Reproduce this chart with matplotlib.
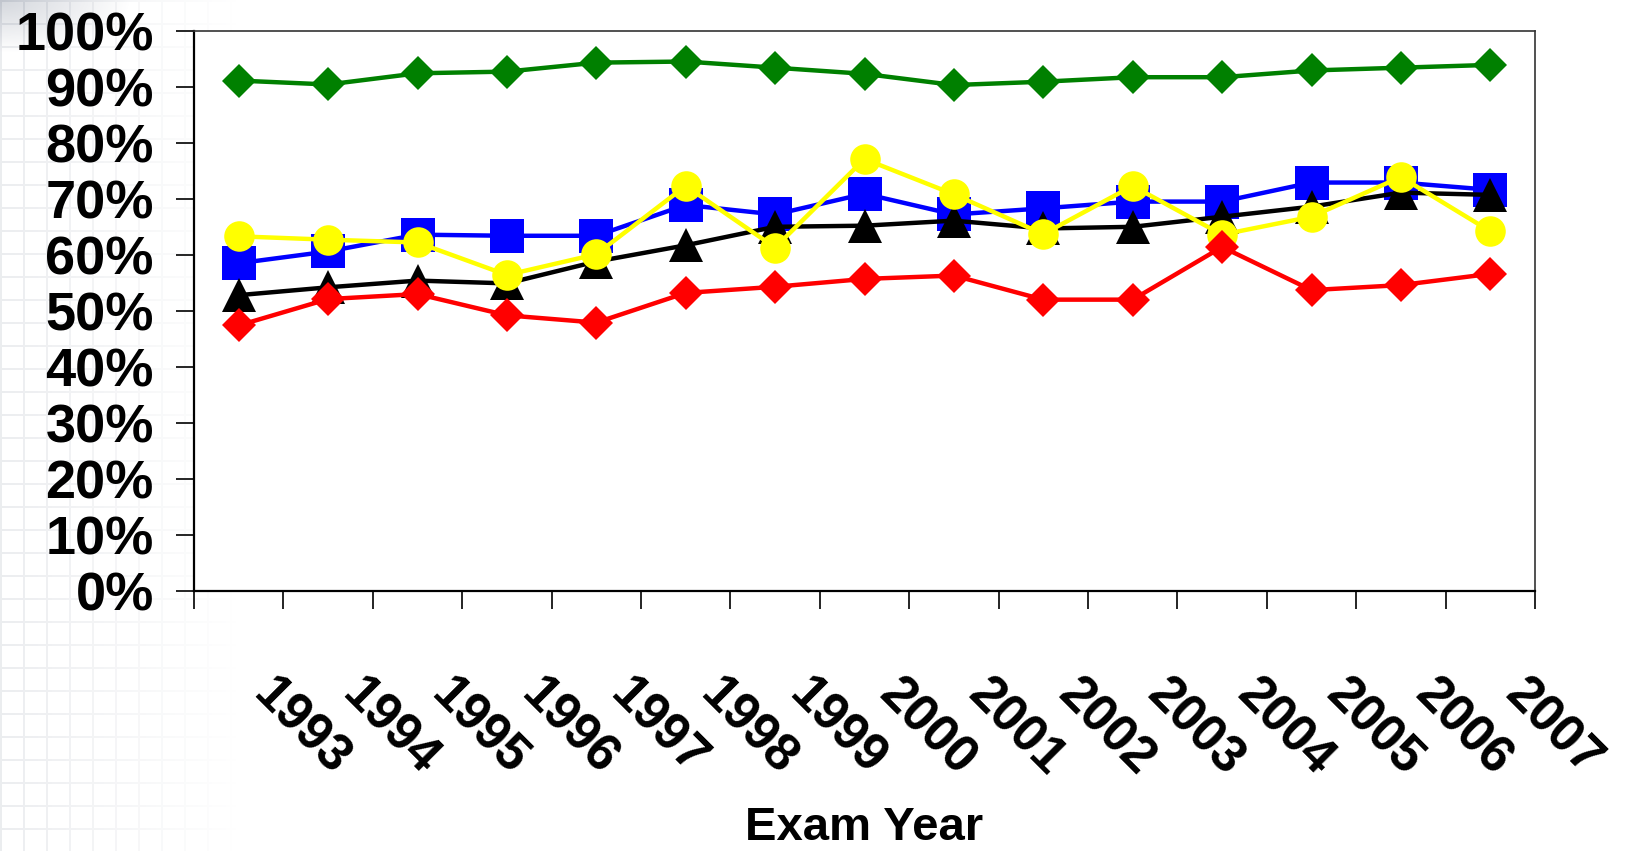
import numpy as np
import matplotlib
matplotlib.use("Agg")
import matplotlib.pyplot as plt
import matplotlib.transforms as mtransforms
from matplotlib.ticker import PercentFormatter

# --- data (percent) ---
years = [1993, 1994, 1995, 1996, 1997, 1998, 1999, 2000,
         2001, 2002, 2003, 2004, 2005, 2006, 2007]
green_vals = [91.1, 90.4, 92.4, 92.7, 94.3, 94.5, 93.4, 92.3,
              90.3, 90.9, 91.7, 91.7, 92.9, 93.4, 93.9]
blue_vals = [58.5, 60.6, 63.6, 63.4, 63.4, 68.9, 67.2, 70.9,
             67.2, 68.3, 69.5, 69.5, 72.9, 72.9, 71.6]
black_vals = [52.8, 54.2, 55.4, 54.9, 58.8, 61.7, 65.0, 65.2,
              66.1, 64.7, 65.0, 66.8, 68.6, 71.1, 70.7]
yellow_vals = [63.3, 62.7, 62.2, 56.4, 60.1, 72.3, 61.3, 77.1,
               70.8, 63.7, 72.3, 63.6, 66.8, 73.9, 64.2]
red_vals = [47.4, 52.1, 53.0, 49.2, 47.9, 53.2, 54.3, 55.7,
            56.3, 52.0, 52.0, 61.4, 53.7, 54.6, 56.6]
y_ticks = [0, 10, 20, 30, 40, 50, 60, 70, 80, 90, 100]
x_label = "Exam Year"

plt.rcParams['font.family'] = ['Liberation Sans', 'DejaVu Sans']
plt.rcParams['font.weight'] = 'bold'

W, H = 1637, 851
fig = plt.figure(figsize=(W / 100, H / 100), dpi=100)

# faint slide background: grid of squares fading out to the right + grey corner
yy, xx = np.mgrid[0:H, 0:W]
cell = 23
grid = (((xx % cell) < 2) | ((yy % cell) < 2)).astype(float)
fade = np.clip(1 - xx / 240.0, 0, 1)
corner = np.clip(1 - np.hypot(xx / 1.0, yy * 2.5) / 130.0, 0, 1)
alpha = np.clip(grid * fade * 0.2 + corner * 0.45, 0, 1)
bg = np.zeros((H, W, 4))
bg[..., 0] = 0.62
bg[..., 1] = 0.65
bg[..., 2] = 0.70
bg[..., 3] = alpha
fig.figimage(bg, 0, 0, origin='upper', zorder=0)

ax = fig.add_axes([194 / W, 1 - 591 / H, (1535 - 194) / W, (591 - 30.7) / H])
ax.set_facecolor('white')
ax.set_zorder(1)

x = np.arange(len(years))
lw = 3.2
ax.plot(x, blue_vals, color='#0000FF', lw=lw, marker='s', ms=25,
        mew=0, zorder=3)
ax.plot(x, black_vals, color='black', lw=lw, marker='^', ms=24,
        mew=0, zorder=4)
ax.plot(x, yellow_vals, color='#FFFF00', lw=lw, marker='o', ms=22,
        mew=0, zorder=5)
ax.plot(x, red_vals, color='#FF0000', lw=lw, marker='D', ms=17,
        mew=0, zorder=6)
ax.plot(x, green_vals, color='#008000', lw=lw, marker='D', ms=17,
        mew=0, zorder=6)

ax.set_xlim(-0.5, len(years) - 0.5)
ax.set_ylim(0, 100)

# y axis
ax.set_yticks(y_ticks)
ax.yaxis.set_major_formatter(PercentFormatter(decimals=0))
ax.tick_params(axis='y', direction='out', length=13, width=1.2,
               pad=16, labelsize=39)

# x axis: ticks on category boundaries, labels rotated below
ax.set_xticks(np.arange(len(years) + 1) - 0.5)
ax.set_xticklabels([])
ax.tick_params(axis='x', direction='out', length=13, width=1.2)

offset = mtransforms.ScaledTranslation(28 / 72, -57 / 72, fig.dpi_scale_trans)
for i, yr in enumerate(years):
    ax.text(i, 0, str(yr), transform=ax.get_xaxis_transform() + offset,
            rotation=-45, rotation_mode='anchor', ha='left', va='top',
            fontsize=37, fontweight='bold')

for side in ['left', 'bottom']:
    ax.spines[side].set_linewidth(1.6)
    ax.spines[side].set_color('black')
for side in ['top', 'right']:
    ax.spines[side].set_linewidth(1.2)
    ax.spines[side].set_color('#333333')

fig.text(864 / W, 1 / H, x_label, ha='center', va='bottom',
         fontsize=34, fontweight='bold')

fig.savefig('out.png', dpi=100)
